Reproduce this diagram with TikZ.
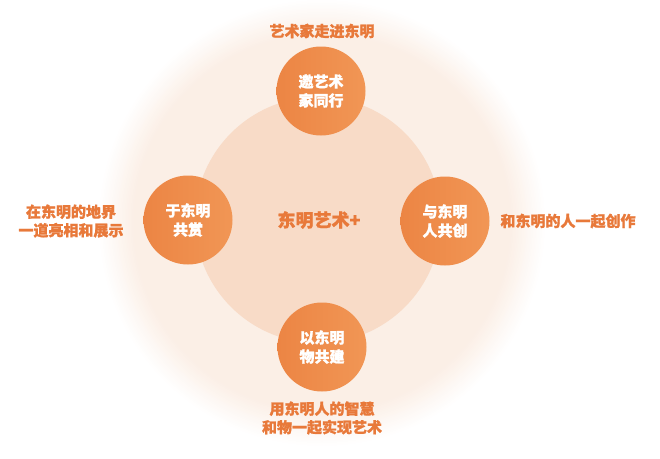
\documentclass[tikz,border=0pt]{standalone}
\usepackage{fontspec}
\newfontfamily\cjk{Noto Sans CJK SC}[FakeBold=1.2]
\definecolor{txt}{HTML}{E8793A}
\definecolor{innerc}{HTML}{F8DBC7}
\definecolor{outc}{HTML}{FBEEE5}
\definecolor{dotL}{HTML}{EC8544}
\definecolor{dotR}{HTML}{F19655}
\tikzset{
  dot/.style={circle, minimum size=89pt, inner sep=0pt, left color=dotL, right color=dotR, text=white, align=center, font=\cjk\bfseries\fontsize{15}{19}\selectfont},
  lab/.style={text=txt, align=center, font=\cjk\bfseries\fontsize{15}{18.5}\selectfont},
}
\begin{document}
\begin{tikzpicture}[x=1pt,y=-1pt]
\useasboundingbox (0,0) rectangle (660,458);
\fill[white] (0,0) rectangle (660,458);
\coordinate (hc) at (322,223);
\foreach \i in {0,...,24}{
  \pgfmathtruncatemacro{\p}{\i*4}
  \fill[outc!\p!white] (hc) circle ({224-1.5*\i});
}
\fill[innerc] (318,220) circle (123);
\node[text=txt, font=\cjk\bfseries\fontsize{18}{22}\selectfont] (hub) at (319,220) {东明艺术+};
\node[dot] (top) at (321,91) {邀艺术\\家同行};
\node[dot] (left) at (188,220) {于东明\\共赏};
\node[dot] (right) at (445,221) {与东明\\人共创};
\node[dot] (bot) at (322,347) {以东明\\物共建};
\node[lab] (ltop) at (322,31) {艺术家走进东明};
\node[lab] (lleft) at (71,221) {在东明的地界\\一道亮相和展示};
\node[lab] (lright) at (568,221) {和东明的人一起创作};
\node[lab] (lbot) at (322,418) {用东明人的智慧\\和物一起实现艺术};
\end{tikzpicture}
\end{document}
